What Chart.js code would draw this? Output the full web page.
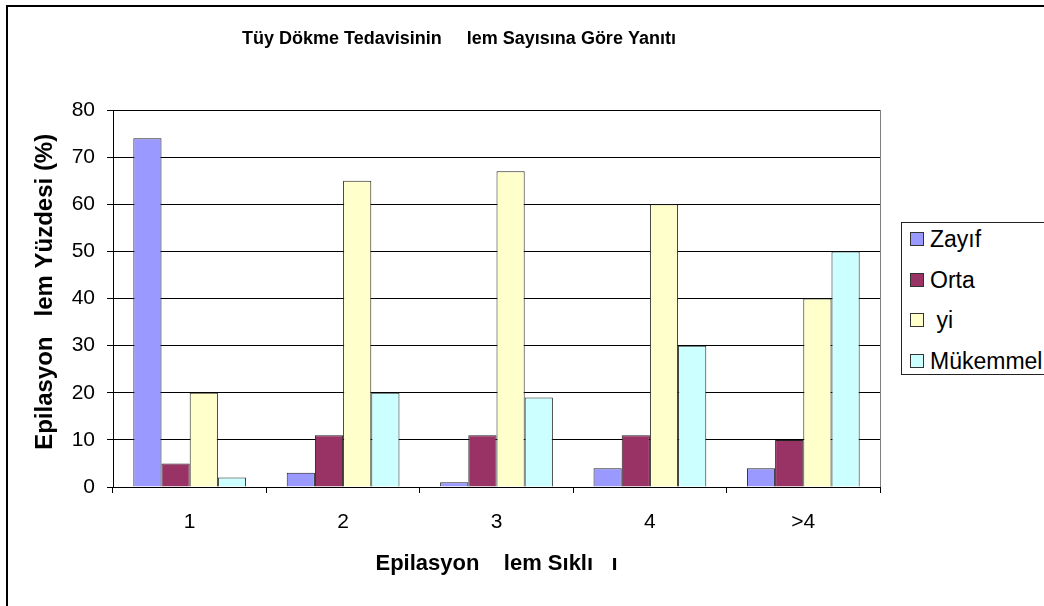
<!DOCTYPE html>
<html>
<head>
<meta charset="utf-8">
<script src="https://cdn.jsdelivr.net/npm/chart.js@4/dist/chart.umd.min.js"></script>
<style>
  body { margin: 0; background: #fff; overflow: hidden; }
  #wrap { position: relative; width: 1044px; height: 606px; overflow: hidden; }
  #frame { position: absolute; left: 6px; top: 5px; width: 1100px; height: 700px;
           border-top: 2px solid #000; border-left: 2px solid #000; pointer-events: none; }
  #legend { position: absolute; left: 901px; top: 222px; width: 170px; height: 151px;
            border: 1px solid #222; background: #fff; font-family: 'Liberation Sans', Arial, sans-serif; font-size: 23px; }
  .item { position: absolute; left: 0; height: 26px; line-height: 26px; white-space: pre; color: #000; }
  .sw { position: absolute; left: 8px; top: 6px; width: 12px; height: 12px; border: 1px solid #333; }
  .lbl { position: absolute; left: 28px; top: 0; }
</style>
</head>
<body>
<div id="wrap">
  <canvas id="chart" width="1044" height="606"></canvas>
  <div id="frame"></div>
  <div id="legend"></div>
</div>
<script>
const categories = ['1', '2', '3', '4', '>4'];
const seriesNames = ['Zayıf', 'Orta', ' yi', 'Mükemmel'];
const zayif = [74, 3, 1, 4, 4];
const orta = [5, 11, 11, 11, 10];
const iyi = [20, 65, 67, 60, 40];
const mukemmel = [2, 20, 19, 30, 50];
const seriesColors = ['#9999FF', '#993366', '#FFFFCC', '#CCFFFF'];
const yMin = 0, yMax = 80, yStep = 10;

const chartTitle = 'Tüy Dökme Tedavisinin     lem Sayısına Göre Yanıtı';
const xTitle = 'Epilasyon    lem Sıklı   ı';
const yTitle = '  Epilasyon   lem Yüzdesi (%)';

const allValues = [zayif, orta, iyi, mukemmel];

// plot frame on the right side
const frameRight = {
  id: 'frameRight',
  afterDraw(chart) {
    const a = chart.chartArea, ctx = chart.ctx;
    ctx.save();
    ctx.strokeStyle = '#808080';
    ctx.lineWidth = 1;
    ctx.beginPath();
    ctx.moveTo(a.right + 0.5, a.top);
    ctx.lineTo(a.right + 0.5, a.bottom);
    ctx.stroke();
    ctx.restore();
  }
};

const ctx = document.getElementById('chart').getContext('2d');
const chart = new Chart(ctx, {
  type: 'bar',
  data: {
    labels: categories,
    datasets: allValues.map((vals, i) => ({
      label: seriesNames[i],
      data: vals,
      backgroundColor: seriesColors[i],
      borderColor: '#222',
      borderWidth: 1,
      barPercentage: 1,
      categoryPercentage: 0.735
    }))
  },
  options: {
    responsive: false,
    animation: false,
    devicePixelRatio: 1,
    layout: { padding: { left: 38, right: 164, top: 0, bottom: 0 } },
    plugins: {
      legend: { display: false },
      tooltip: { enabled: false },
      title: {
        display: true,
        text: chartTitle,
        color: '#000',
        font: { family: "'Liberation Sans', Arial", size: 18, weight: 'bold' },
        padding: { top: 28, bottom: 60.4 }
      }
    },
    scales: {
      x: {
        grid: { display: true, drawOnChartArea: false, color: '#000', tickLength: 6, offset: true },
        border: { color: '#000', width: 1 },
        ticks: { color: '#000', padding: 17, font: { family: "'Liberation Sans', Arial", size: 21 } },
        title: {
          display: true, text: xTitle, color: '#000',
          font: { family: "'Liberation Sans', Arial", size: 22, weight: 'bold' },
          padding: { top: 4, bottom: 28.8 }
        },
        afterFit(scale) { scale.height = 119; }
      },
      y: {
        min: yMin, max: yMax,
        grid: { color: '#000', tickLength: 6 },
        border: { color: '#000', width: 1 },
        ticks: { stepSize: yStep, color: '#000', padding: 12, font: { family: "'Liberation Sans', Arial", size: 21 } },
        title: {
          display: true, text: yTitle, color: '#000',
          font: { family: "'Liberation Sans', Arial", size: 24, weight: 'bold' },
          padding: { top: -7, bottom: 0 }
        },
        afterFit(scale) { scale.width = 75; }
      }
    }
  },
  plugins: [frameRight]
});

// legend box
const legend = document.getElementById('legend');
seriesNames.forEach((name, i) => {
  const item = document.createElement('div');
  item.className = 'item';
  item.style.top = (16 + i * 40.7 - 13) + 'px';
  item.innerHTML = '<span class="sw" style="background:' + seriesColors[i] + '"></span><span class="lbl"></span>';
  item.querySelector('.lbl').textContent = name;
  legend.appendChild(item);
});
</script>
</body>
</html>
